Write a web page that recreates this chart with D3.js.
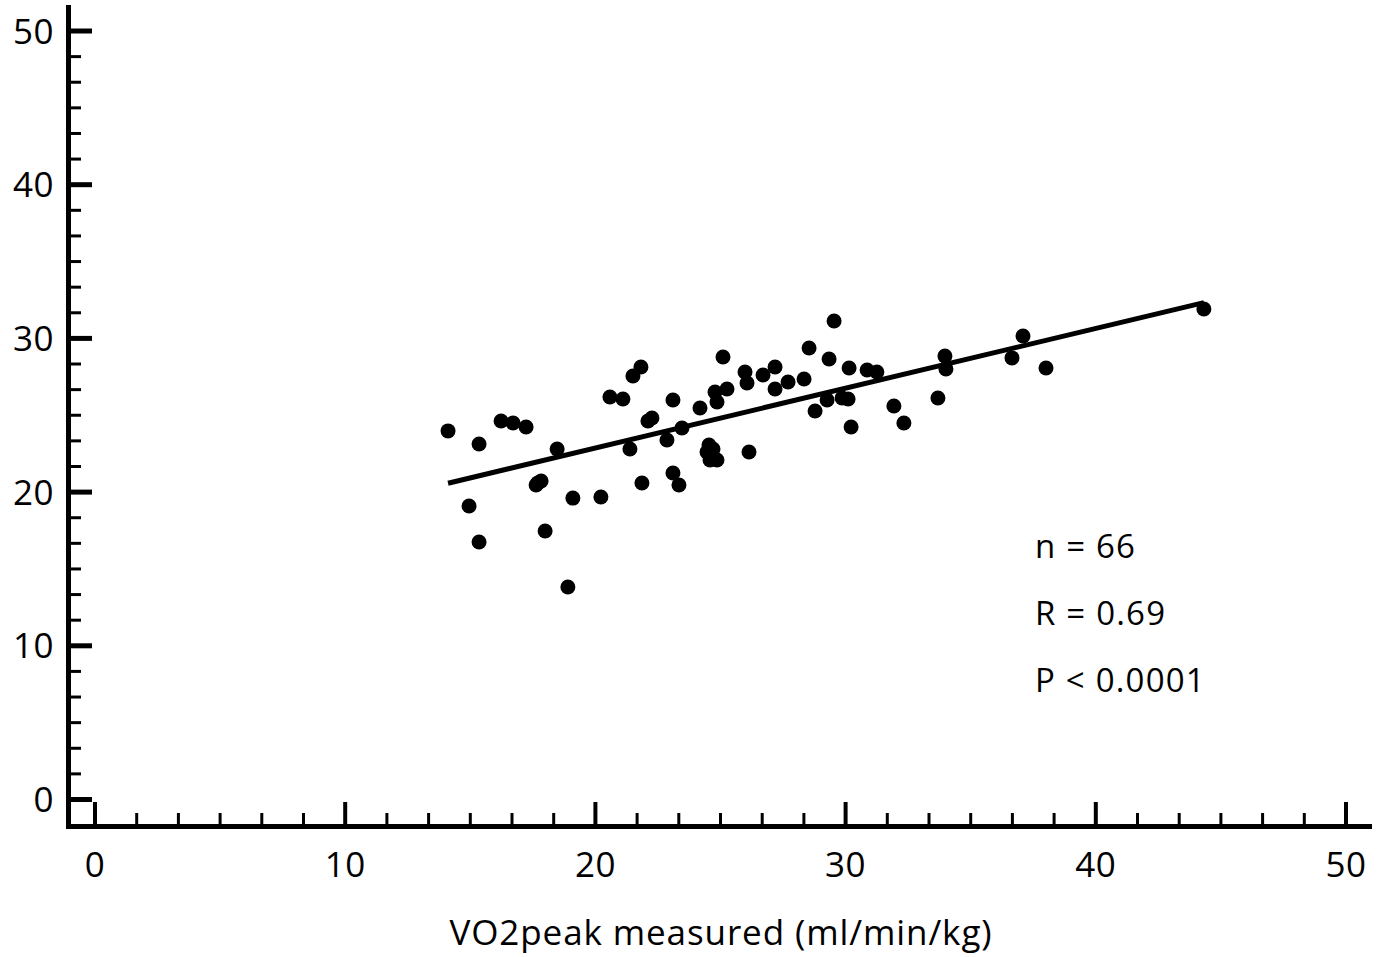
<!DOCTYPE html>
<html>
<head>
<meta charset="utf-8">
<script src="https://cdn.jsdelivr.net/npm/d3@7/dist/d3.min.js"></script>
<style>
  html, body { margin: 0; padding: 0; background: #fff; }
  svg text { font-family: "Comic Sans MS", "Open Sans", sans-serif; fill: #000; }
</style>
</head>
<body>
<svg id="chart" width="1389" height="957"></svg>
<script>
// Data
const measured = [14.11, 14.95, 15.35, 15.35, 16.23, 16.71, 17.23, 17.63, 17.83, 17.99,
  18.47, 19.10, 18.90, 20.22, 20.58, 21.10, 21.38, 21.50, 21.82, 21.86,
  22.10, 22.26, 22.86, 23.10, 23.10, 23.46, 23.34, 24.18, 24.54, 24.46,
  24.58, 24.86, 24.78, 24.86, 25.10, 25.26, 25.98, 26.06, 26.14, 26.70,
  27.18, 27.18, 27.70, 28.34, 28.54, 28.78, 29.34, 29.26, 29.54, 29.86,
  30.10, 30.14, 30.22, 30.86, 31.25, 31.93, 32.33, 33.69, 33.97, 34.01,
  36.65, 37.09, 38.01, 44.32, 24.70, 17.70];
const predicted = [23.98, 19.10, 23.13, 16.75, 24.63, 24.50, 24.24, 20.46, 20.72, 17.47,
  22.80, 19.61, 13.83, 19.68, 26.19, 26.06, 22.80, 27.55, 28.14, 20.59,
  24.63, 24.82, 23.39, 25.99, 21.24, 24.17, 20.46, 25.47, 23.06, 22.61,
  22.09, 22.09, 26.51, 25.86, 28.79, 26.71, 27.81, 27.10, 22.61, 27.62,
  28.14, 26.71, 27.16, 27.36, 29.38, 25.28, 28.66, 25.99, 31.13, 26.12,
  26.06, 28.07, 24.24, 27.94, 27.81, 25.60, 24.50, 26.12, 28.85, 28.01,
  28.73, 30.16, 28.07, 31.91, 22.80, 20.60];
const regression = { intercept: 15.09, slope: 0.389 };
const xTicks = [0, 10, 20, 30, 40, 50];
const yTicks = [0, 10, 20, 30, 40, 50];
const statsLines = ["n = 66", "R = 0.69", "P < 0.0001"];
const xTitle = "VO2peak measured (ml/min/kg)";

const points = measured.map((m, i) => ({ x: m, y: predicted[i] }));

const svg = d3.select("#chart");
const x = d3.scaleLinear().domain([0, 50]).range([95, 1346]);
const y = d3.scaleLinear().domain([0, 50]).range([799.5, 31]);

// minor ticks: five between each pair of majors
const minorX = [], minorY = [];
for (let k = 0; k < 5; k++) {
  for (let j = 1; j <= 5; j++) {
    minorX.push(xTicks[k] + j * (xTicks[k + 1] - xTicks[k]) / 6);
    minorY.push(yTicks[k] + j * (yTicks[k + 1] - yTicks[k]) / 6);
  }
}

const axisX = 68.5, axisY = 826.5;
const g = svg.append("g");

// Y axis line
g.append("line").attr("x1", axisX).attr("x2", axisX).attr("y1", 5).attr("y2", axisY + 2.5)
  .attr("stroke", "#000").attr("stroke-width", 5);
// X axis line
g.append("line").attr("x1", axisX - 2.5).attr("x2", 1372).attr("y1", axisY).attr("y2", axisY)
  .attr("stroke", "#000").attr("stroke-width", 5);

// Y ticks
g.selectAll(".ymaj").data(yTicks).join("line")
  .attr("x1", axisX).attr("x2", 92).attr("y1", d => y(d)).attr("y2", d => y(d))
  .attr("stroke", "#000").attr("stroke-width", 5);
g.selectAll(".ymin").data(minorY).join("line").attr("class", "ymin")
  .attr("x1", axisX).attr("x2", 81).attr("y1", d => y(d)).attr("y2", d => y(d))
  .attr("stroke", "#000").attr("stroke-width", 3);
g.selectAll(".ylab").data(yTicks).join("text").attr("class", "ylab")
  .attr("x", 54).attr("y", d => y(d)).attr("dy", "0.36em")
  .attr("text-anchor", "end").attr("font-size", 35).attr("letter-spacing", 0.5).text(d => d);

// X ticks
g.selectAll(".xmaj").data(xTicks).join("line").attr("class", "xmaj")
  .attr("x1", d => x(d)).attr("x2", d => x(d)).attr("y1", axisY).attr("y2", 802)
  .attr("stroke", "#000").attr("stroke-width", 4);
g.selectAll(".xmin").data(minorX).join("line").attr("class", "xmin")
  .attr("x1", d => x(d)).attr("x2", d => x(d)).attr("y1", axisY).attr("y2", 813)
  .attr("stroke", "#000").attr("stroke-width", 3);
g.selectAll(".xlab").data(xTicks).join("text").attr("class", "xlab")
  .attr("x", d => x(d)).attr("y", 877)
  .attr("text-anchor", "middle").attr("font-size", 35).attr("letter-spacing", 0.5).text(d => d);

// X title
g.append("text").attr("x", 721).attr("y", 945).attr("text-anchor", "middle")
  .attr("font-size", 35).attr("letter-spacing", 0.9).text(xTitle);

// Regression line
const ext = d3.extent(measured);
g.append("line")
  .attr("x1", x(ext[0])).attr("y1", y(regression.intercept + regression.slope * ext[0]))
  .attr("x2", x(ext[1])).attr("y2", y(regression.intercept + regression.slope * ext[1]))
  .attr("stroke", "#000").attr("stroke-width", 5);

// Points
g.selectAll(".pt").data(points).join("circle").attr("class", "pt")
  .attr("cx", d => x(d.x)).attr("cy", d => y(d.y)).attr("r", 7.5).attr("fill", "#000");

// Stats text
g.selectAll(".stat").data(statsLines).join("text").attr("class", "stat")
  .attr("x", 1035).attr("y", (d, i) => 558 + i * 67)
  .attr("font-size", 33).attr("letter-spacing", 1.2).text(d => d);
</script>
</body>
</html>
